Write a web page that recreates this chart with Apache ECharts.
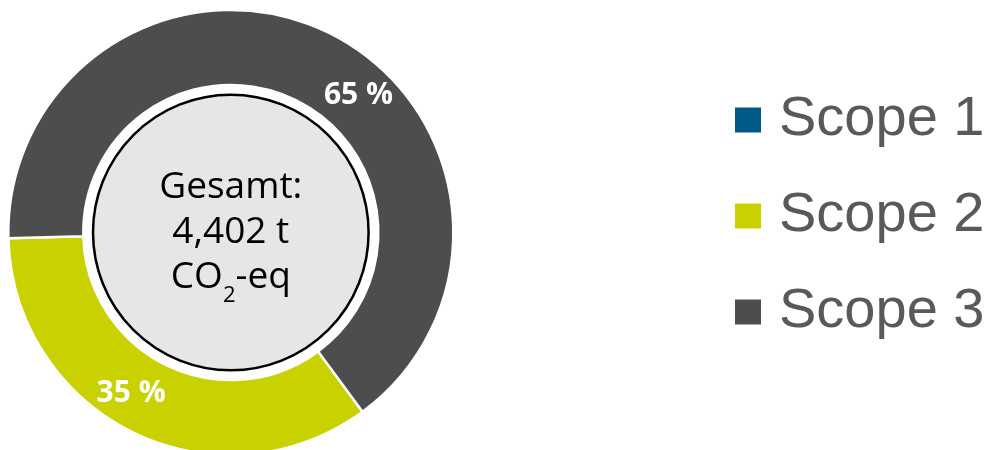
<!DOCTYPE html>
<html>
<head>
<meta charset="utf-8">
<script src="https://cdn.jsdelivr.net/npm/echarts@6/dist/echarts.min.js"></script>
<style>html,body{margin:0;padding:0;background:#fff;}#c{width:990px;height:450px;}</style>
</head>
<body>
<div id="c"></div>
<script>
const categories = ['Scope 1', 'Scope 2', 'Scope 3'];
const values = [0, 1526, 2876];   // t CO2-eq
const colors = ['#005A87', '#C9D200', '#4D4D4D'];
const centerTitle = 'Gesamt:';
const unitLine = ['CO', '2', '-eq'];

const total = values.reduce((a, b) => a + b, 0);
const totalText = total.toLocaleString('en-US') + ' t';

const chart = echarts.init(document.getElementById('c'), null, {renderer: 'canvas'});
const center = [230.8, 232.5];

chart.setOption({
  animation: false,
  backgroundColor: '#ffffff',
  legend: {
    orient: 'vertical',
    left: 733,
    top: 90,
    padding: 0,
    itemWidth: 28,
    itemHeight: 27,
    itemGap: 36,
    icon: 'rect',
    selectedMode: false,
    data: categories,
    textStyle: {
      fontFamily: 'Liberation Sans',
      fontSize: 56,
      lineHeight: 56,
      color: '#595959',
      padding: [4, 0, 0, 12]
    }
  },
  series: [
    {
      type: 'pie',
      name: 'Scopes',
      center: center,
      radius: [147.5, 222.5],
      startAngle: 306.3,
      clockwise: true,
      silent: true,
      avoidLabelOverlap: false,
      itemStyle: {borderColor: '#ffffff', borderWidth: 2.5},
      label: {
        show: true,
        position: 'inside',
        color: '#ffffff',
        fontFamily: 'Open Sans',
        fontWeight: 'bold',
        fontSize: 30,
        formatter: p => p.value > 0 ? Math.round(p.percent) + ' %' : ''
      },
      labelLine: {show: false},
      labelLayout: function (params) {
        if (params.dataIndex === 1) return {dx: -17, dy: -8};
        if (params.dataIndex === 2) return {dx: 45, dy: 32};
        return {};
      },
      data: categories.map((n, i) => ({name: n, value: values[i], itemStyle: {color: colors[i]}}))
    },
    {
      type: 'pie',
      name: 'Gesamt',
      center: center,
      radius: [0, 137.8],
      silent: true,
      itemStyle: {color: '#E6E6E6', borderColor: '#000000', borderWidth: 2.5},
      label: {
        show: true,
        position: 'center',
        formatter: () => '{m|' + centerTitle + '}\n{m|' + totalText + '}\n{m|' + unitLine[0] + '}{s|' + unitLine[1] + '}{m|' + unitLine[2] + '}',
        rich: {
          m: {fontFamily: 'Open Sans', fontSize: 37, lineHeight: 45, color: '#000000'},
          s: {fontFamily: 'Open Sans', fontSize: 22, lineHeight: 8, verticalAlign: 'middle', padding: [36, 0, 0, 0], color: '#000000'}
        }
      },
      labelLine: {show: false},
      data: [{name: 'Gesamt', value: total}]
    }
  ]
});
</script>
</body>
</html>
